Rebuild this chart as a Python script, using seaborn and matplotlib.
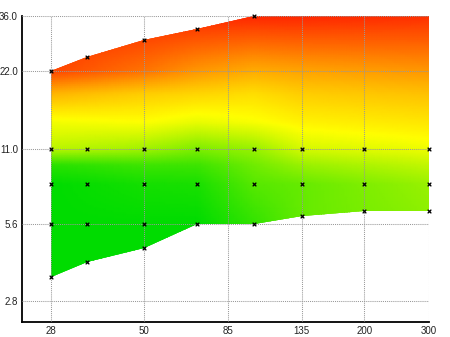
import numpy as np
import matplotlib
matplotlib.use("Agg")
import matplotlib.pyplot as plt
import seaborn as sns
from matplotlib.colors import LinearSegmentedColormap
from matplotlib.ticker import FixedLocator, NullLocator, FixedFormatter

# ---- data ----
focal = [28, 35, 50, 70, 100, 135, 200, 300]
f_min = [3.5, 4.0, 4.5, 5.6, 5.6, 6.0, 6.3, 6.3]
f_max = [22, 25, 29, 32, 36, 36, 36, 36]
top_marked = [True, True, True, True, True, False, False, False]
mid_stops = [5.6, 8, 11]

x_ticks = [28, 50, 85, 135, 200, 300]
x_labels = ["28", "50", "85", "135", "200", "300"]
y_ticks = [2.8, 5.6, 11.0, 22.0, 36.0]
y_labels = ["2.8", "5.6", "11.0", "22.0", "36.0"]

# colour score grid (0 = green, 0.5 = yellow, 1 = red)
score_focal = [28, 50, 70, 100, 135, 300]
score_f = [3.5, 5.6, 8, 9.5, 11, 14, 18, 22, 36]
score_grid = [
    [0.00, 0.00, 0.00, 0.08, 0.37, 0.48, 0.68, 0.93, 1.00],
    [0.00, 0.00, 0.04, 0.12, 0.32, 0.50, 0.62, 0.83, 1.00],
    [0.00, 0.00, 0.05, 0.12, 0.25, 0.46, 0.60, 0.75, 1.00],
    [0.10, 0.10, 0.17, 0.22, 0.30, 0.49, 0.58, 0.70, 1.00],
    [0.20, 0.20, 0.20, 0.30, 0.42, 0.53, 0.62, 0.72, 1.00],
    [0.27, 0.27, 0.30, 0.38, 0.47, 0.56, 0.65, 0.75, 0.98],
]

sns.set_style("white")
plt.rcParams["font.family"] = ["Liberation Sans Narrow", "Liberation Sans", "DejaVu Sans"]

fig = plt.figure(figsize=(4.5, 3.37), dpi=100)
ax = fig.add_axes([22 / 450, 15 / 337, 407 / 450, 306 / 337])
ax.set_xscale("log")
ax.set_yscale("log")

# region polygon
fill = ax.fill_between(focal, f_min, f_max, facecolor="none", edgecolor="none", lw=0)

# gradient mesh
cmap = LinearSegmentedColormap.from_list(
    "gyr",
    [(0.0, "#00dc00"), (0.25, "#80ee00"), (0.5, "#ffff00"), (0.75, "#ff9900"), (1.0, "#ff2800")],
)
lx = np.linspace(np.log(23.3), np.log(300), 160)
ly = np.linspace(np.log(2.33), np.log(36), 160)
sf = np.log(score_focal)
sy = np.log(score_f)
G = np.array(score_grid)  # (nfocal, nf)
cols = np.array([np.interp(lx, sf, G[:, j]) for j in range(G.shape[1])])  # (nf, nx)
idx = np.interp(ly, sy, np.arange(len(sy)))
i0 = np.clip(np.floor(idx).astype(int), 0, len(sy) - 2)
w = (idx - i0)[:, None]
S = cols[i0] * (1 - w) + cols[i0 + 1] * w  # (ny, nx)
X, Y = np.meshgrid(np.exp(lx), np.exp(ly))
mesh = ax.pcolormesh(X, Y, S, cmap=cmap, vmin=0, vmax=1, shading="gouraud", zorder=1)
mesh.set_clip_path(fill.get_paths()[0], ax.transData)

# markers
mx, my = [], []
for fc, lo, hi, tm in zip(focal, f_min, f_max, top_marked):
    pts = {lo}
    for s in mid_stops:
        if s >= lo - 1e-9:
            pts.add(s)
    if tm:
        pts.add(hi)
    for p in sorted(pts):
        mx.append(fc)
        my.append(p)
sns.scatterplot(x=mx, y=my, marker="x", color="black", s=7, linewidth=0.9,
                ax=ax, zorder=5, clip_on=False, legend=False)

ax.set_xlim(23.3, 300)
ax.set_ylim(2.33, 36)

ax.xaxis.set_major_locator(FixedLocator(x_ticks))
ax.xaxis.set_major_formatter(FixedFormatter(x_labels))
ax.xaxis.set_minor_locator(NullLocator())
ax.yaxis.set_major_locator(FixedLocator(y_ticks))
ax.yaxis.set_major_formatter(FixedFormatter(y_labels))
ax.yaxis.set_minor_locator(NullLocator())

ax.set_axisbelow(False)
ax.grid(True, which="major", color="#999999", linestyle=(0, (1, 1)), linewidth=0.75)
for s in ["top", "right"]:
    ax.spines[s].set_visible(False)
for s in ["left", "bottom"]:
    ax.spines[s].set_color("black")
    ax.spines[s].set_linewidth(1.3)
ax.tick_params(axis="both", length=2.5, width=1, color="black", labelsize=7,
               labelcolor="#222222", pad=0.5)
ax.set_facecolor("white")

fig.savefig("out.png", dpi=100)
